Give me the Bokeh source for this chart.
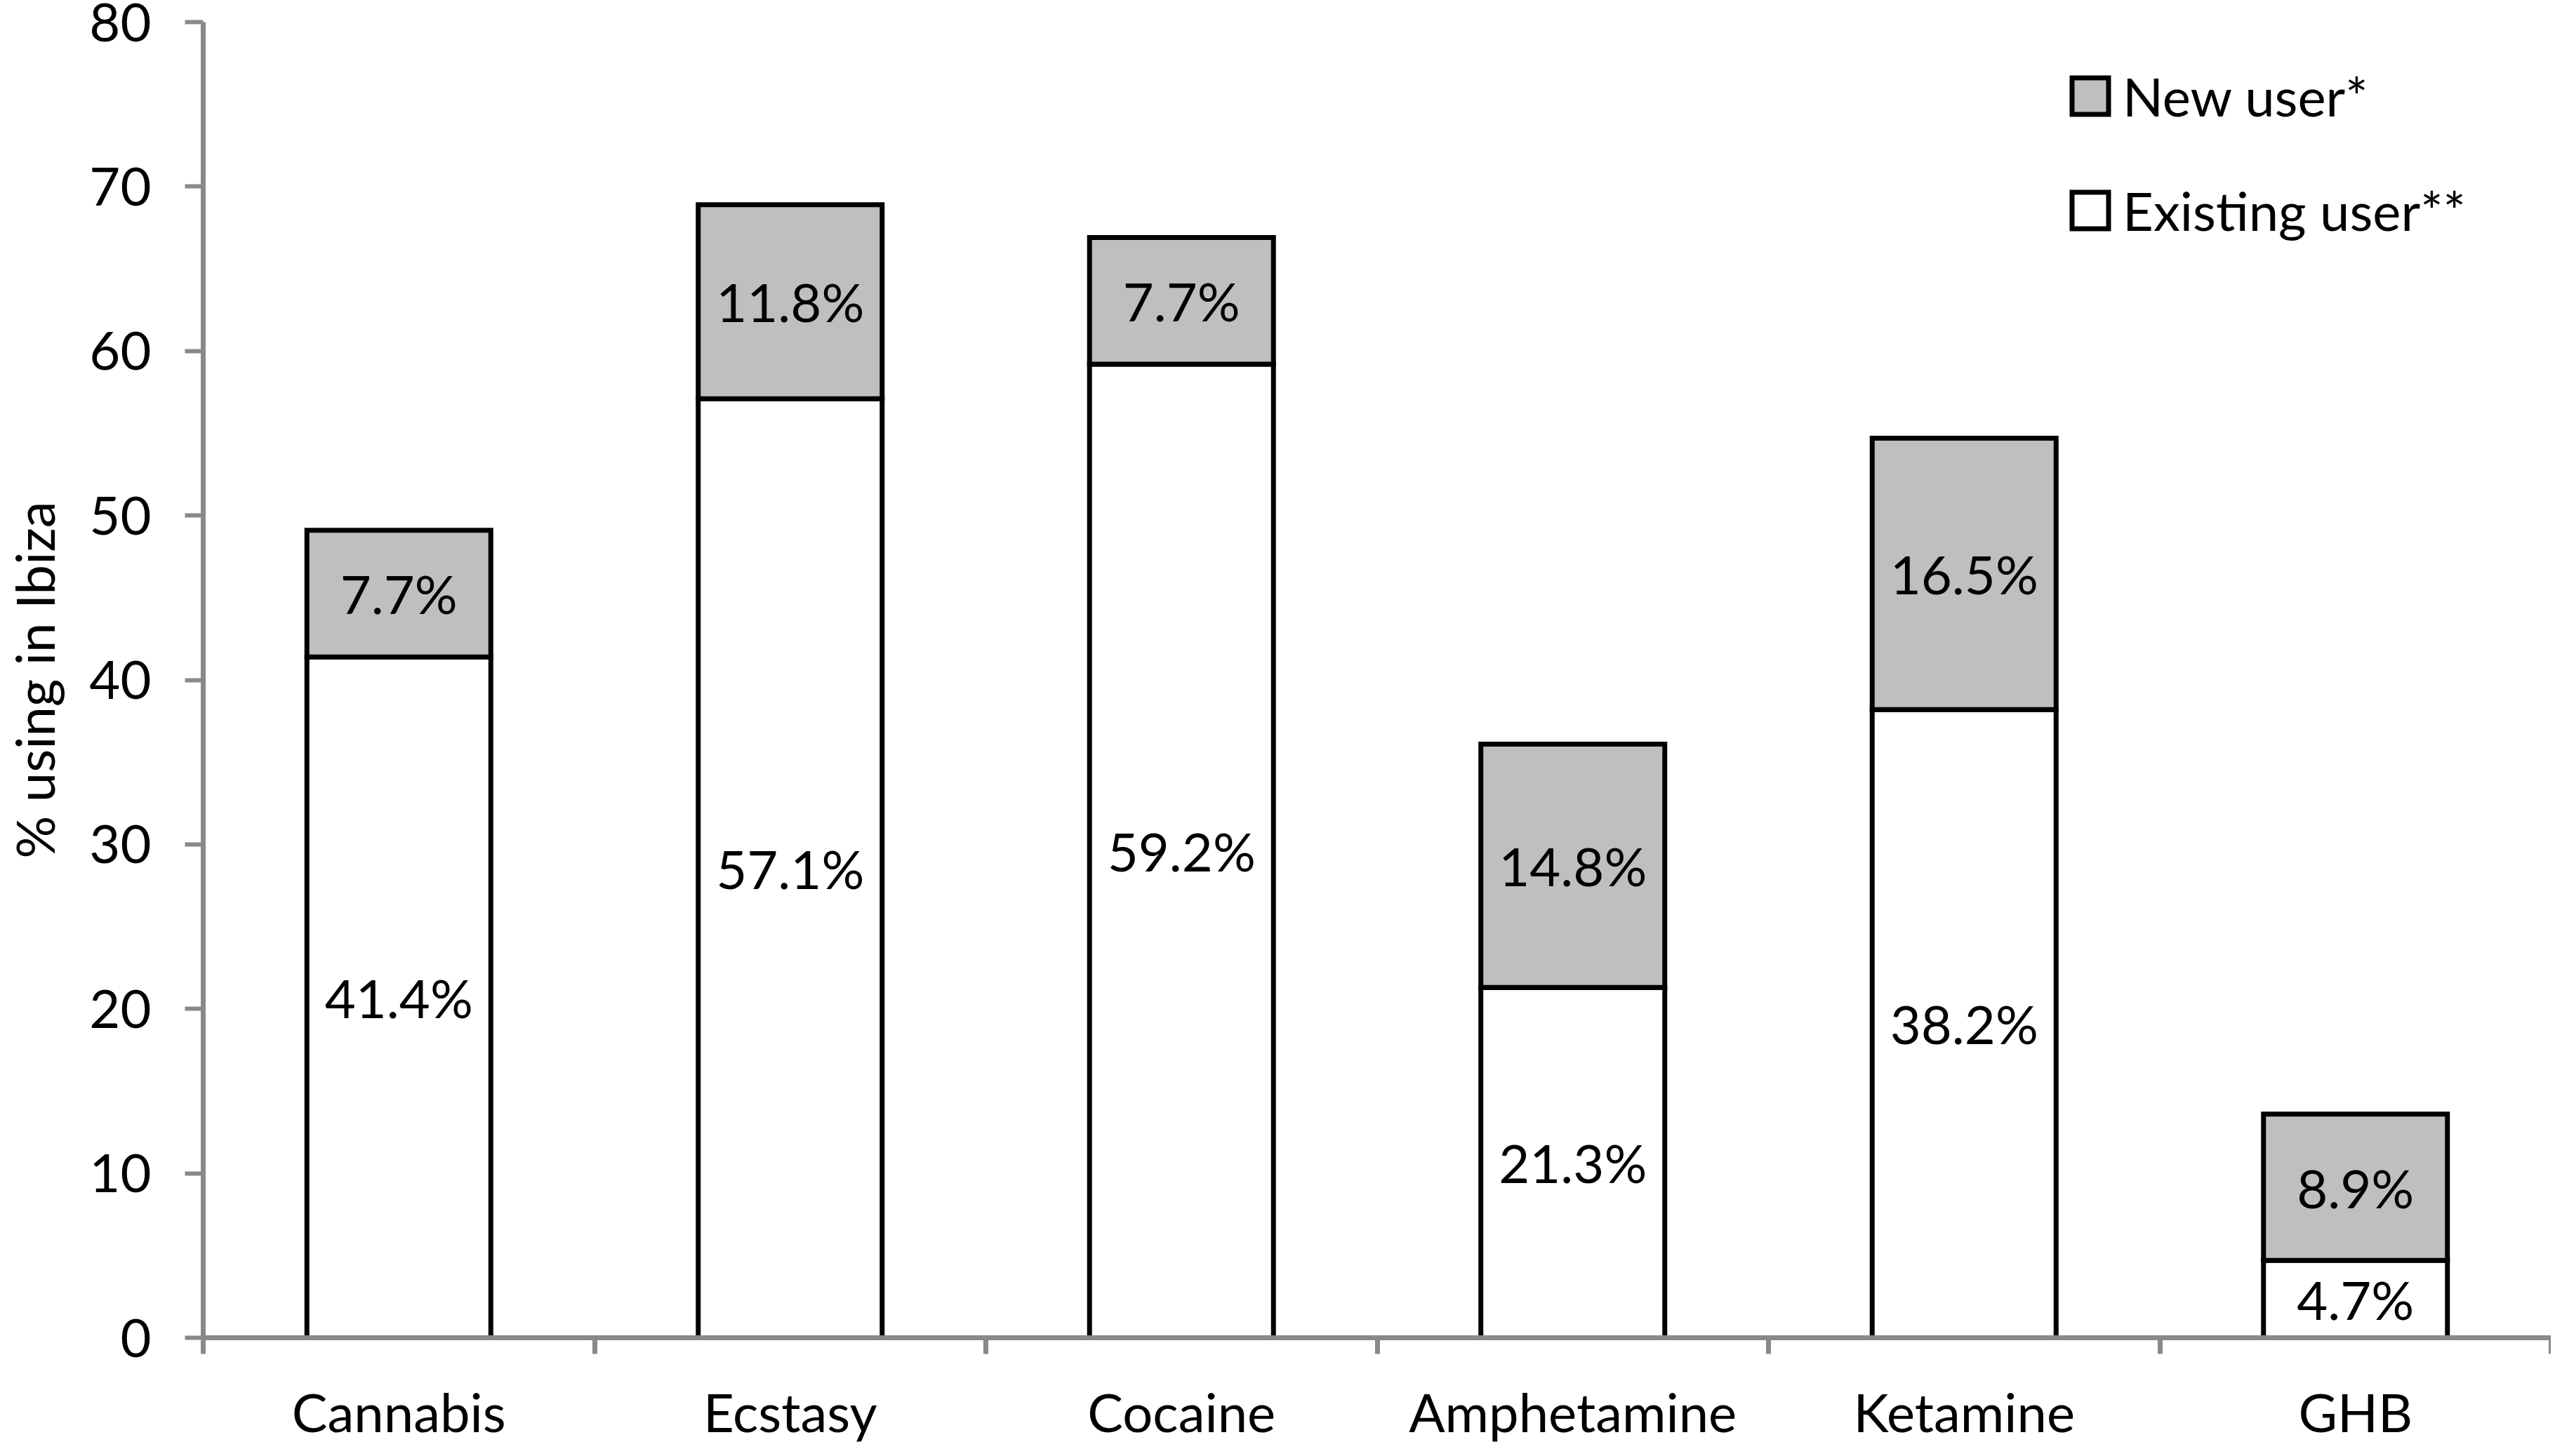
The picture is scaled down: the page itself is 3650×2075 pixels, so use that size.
from bokeh.plotting import figure
from bokeh.models import ColumnDataSource, Range1d, FixedTicker, Legend, LegendItem
from bokeh.embed import file_html
from bokeh.resources import INLINE
from bokeh.core.properties import value

# ---- data ----
categories = ["Cannabis", "Ecstasy", "Cocaine", "Amphetamine", "Ketamine", "GHB"]
existing_user = [41.4, 57.1, 59.2, 21.3, 38.2, 4.7]
new_user = [7.7, 11.8, 7.7, 14.8, 16.5, 8.9]
y_ticks = [0, 10, 20, 30, 40, 50, 60, 70, 80]
series_names = ["New user*", "Existing user**"]
y_title = "% using in Ibiza"

# ---- style ----
FONT = "Lato"
FS = "76px"
AXIS_GRAY = "#898989"
BAR_GRAY = "#bfbfbf"

n = len(categories)
xs = [i + 0.5 for i in range(n)]
bounds = list(range(n + 1))
totals = [e + w for e, w in zip(existing_user, new_user)]
src = ColumnDataSource(dict(
    x=xs,
    existing=existing_user,
    total=totals,
    mid_e=[e / 2 for e in existing_user],
    mid_n=[e + w / 2 for e, w in zip(existing_user, new_user)],
    lab_e=[f"{v:.1f}%" for v in existing_user],
    lab_n=[f"{v:.1f}%" for v in new_user],
))

p = figure(width=3634, height=2059, output_backend="svg", toolbar_location=None,
           x_range=Range1d(0, n), y_range=Range1d(y_ticks[0], y_ticks[-1]),
           min_border_left=286, min_border_right=0, min_border_top=31,
           min_border_bottom=152)
p.xgrid.visible = False
p.ygrid.visible = False
p.outline_line_color = None
p.background_fill_color = "white"
p.border_fill_color = "white"

r_exist = p.vbar(x="x", width=0.47, bottom=0, top="existing", source=src,
                 fill_color="white", line_color="black", line_width=7,
                 line_join="miter")
r_new = p.vbar(x="x", width=0.47, bottom="existing", top="total", source=src,
               fill_color=BAR_GRAY, line_color="black", line_width=7,
               line_join="miter")

for ycol, tcol in (("mid_e", "lab_e"), ("mid_n", "lab_n")):
    p.text(x="x", y=ycol, text=tcol, source=src, text_align="center",
           text_baseline="middle", text_font=value(FONT),
           text_font_size=FS, text_color="black")

# y axis
yax = p.yaxis[0]
yax.ticker = FixedTicker(ticks=y_ticks)
yax.major_tick_out = 26
yax.major_tick_in = 0
yax.minor_tick_out = 0
yax.minor_tick_in = 0
yax.major_tick_line_width = 6
yax.major_tick_line_color = AXIS_GRAY
yax.axis_line_width = 7
yax.axis_line_color = AXIS_GRAY
yax.major_label_standoff = 48
yax.major_label_text_font = FONT
yax.major_label_text_font_size = FS
yax.major_label_text_color = "black"
yax.axis_label = y_title
yax.axis_label_text_font = FONT
yax.axis_label_text_font_size = FS
yax.axis_label_text_font_style = "normal"
yax.axis_label_text_color = "black"
yax.axis_label_standoff = 30

# x axis
xax = p.xaxis[0]
xax.ticker = FixedTicker(ticks=xs, minor_ticks=bounds)
xax.major_tick_out = 0
xax.major_tick_in = 0
xax.minor_tick_out = 23
xax.minor_tick_in = 0
xax.minor_tick_line_width = 7
xax.minor_tick_line_color = AXIS_GRAY
xax.axis_line_width = 7
xax.axis_line_color = AXIS_GRAY
xax.major_label_overrides = {x: c for x, c in zip(xs, categories)}
xax.major_label_standoff = 36
xax.major_label_text_font = FONT
xax.major_label_text_font_size = FS
xax.major_label_text_line_height = 1.0
xax.major_label_text_color = "black"

legend = Legend(items=[LegendItem(label=series_names[0], renderers=[r_new]),
                       LegendItem(label=series_names[1], renderers=[r_exist])],
                location=(2656, 1557), glyph_width=65, glyph_height=65,
                label_height=100, label_standoff=14, spacing=63, padding=0,
                margin=0, border_line_color=None, background_fill_alpha=0,
                label_text_font=FONT, label_text_font_size=FS,
                label_text_color="black")
p.add_layout(legend)

open("out.html", "w").write(file_html(p, INLINE))
